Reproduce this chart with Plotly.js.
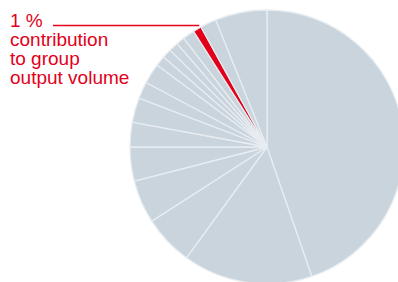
<!DOCTYPE html>
<html>
<head>
<meta charset="utf-8">
<script src="https://cdn.plot.ly/plotly-3.0.1.min.js"></script>
<style>
html,body{margin:0;padding:0;overflow:hidden;background:#fff;}
#chart{width:404px;height:284px;}
</style>
</head>
<body>
<div id="chart"></div>
<script>
// Slice shares (%), clockwise from 12 o'clock
const sites = ["S1","S2","S3","S4","S5","S6","S7","S8","S9","S10","S11","S12","S13","S14","Highlighted","S16","S17"];
const shares = [44.7, 15.3, 5.9, 5.1, 4.0, 2.9, 2.9, 2.0, 2.4, 1.2, 1.1, 1.1, 1.0, 1.4, 1.0, 1.9, 6.1];
const highlightIndex = 14;
const labelLines = ["1 %", "contribution", "to group", "output volume"];

const W = 404, H = 284;
const RED = "#e2001a", GREY = "#c9d4dc";
const colors = shares.map((v, i) => i === highlightIndex ? RED : GREY);

const domX = [130 / W, 1], domY = [0, 274 / H];

const trace = {
  type: "pie",
  labels: sites,
  values: shares,
  sort: false,
  direction: "clockwise",
  rotation: 0,
  textinfo: "none",
  hoverinfo: "none",
  marker: {colors: colors, line: {color: "#e8edf1", width: 1.3}},
  domain: {x: domX, y: domY}
};

// leader line end computed from slice geometry
const total = shares.reduce((a, b) => a + b, 0);
let cum = 0;
for (let i = 0; i < highlightIndex; i++) cum += shares[i];
const midAng = (cum + shares[highlightIndex] / 2) / total * 2 * Math.PI;
const cx = (domX[0] + domX[1]) / 2 * W;
const R = Math.min((domX[1] - domX[0]) * W, (domY[1] - domY[0]) * H) / 2;
const ex = cx + R * Math.sin(midAng) + 2;
const lineY = 25.5;

const lineCenters = [20.5, 39.8, 58.6, 77.6];
const annotations = labelLines.map((t, i) => ({
  text: t, xref: "paper", yref: "paper",
  x: 9 / W, y: 1 - lineCenters[i] / H,
  xanchor: "left", yanchor: "middle", showarrow: false,
  align: "left", borderpad: 0,
  font: {family: "Liberation Sans, Arial, sans-serif", size: 19, color: RED}
}));

const layout = {
  width: W, height: H,
  margin: {l: 0, r: 0, t: 0, b: 0, pad: 0},
  showlegend: false,
  paper_bgcolor: "#fff",
  annotations: annotations,
  shapes: [{
    type: "line", xref: "paper", yref: "paper",
    x0: 53 / W, x1: ex / W, y0: 1 - lineY / H, y1: 1 - lineY / H,
    line: {color: RED, width: 1.5}
  }]
};

Plotly.newPlot("chart", [trace], layout, {staticPlot: true, displayModeBar: false});
</script>
</body>
</html>
